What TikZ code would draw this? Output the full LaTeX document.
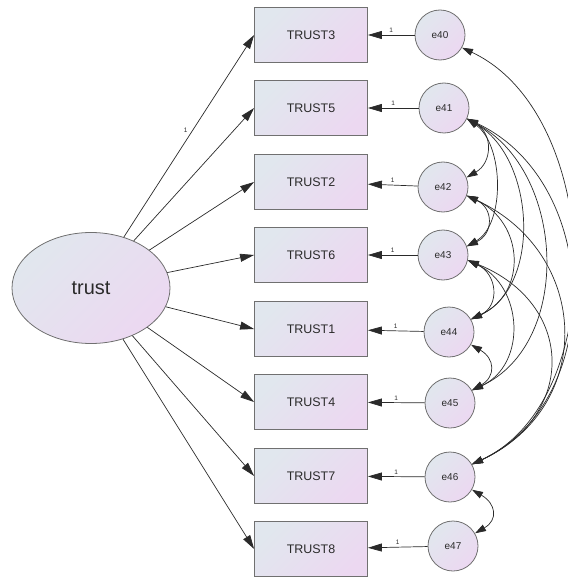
\documentclass[tikz,border=0pt]{standalone}
\usepackage{fontspec}
\setmainfont{Liberation Sans}
\usetikzlibrary{arrows.meta,shapes.geometric}
\definecolor{fillA}{HTML}{E1E7EE}
\definecolor{fillB}{HTML}{ECD8F1}
\definecolor{rim}{HTML}{707070}
\definecolor{ink}{HTML}{2A2A2A}
\definecolor{txt}{HTML}{2A2A2A}

\begin{document}
\begin{tikzpicture}[x=1bp,y=-1bp,
  shaded/.style={left color=fillA, right color=fillB, shading angle=45},
  obs/.style={shaded, draw=rim, line width=0.8bp, rectangle,
    minimum width=113bp, minimum height=55bp, inner sep=0pt,
    font=\fontsize{12.5}{14}\selectfont, text=txt},
  latent/.style={shaded, draw=rim, line width=0.8bp, ellipse,
    minimum width=158bp, minimum height=111bp, inner sep=0pt,
    font=\fontsize{20}{22}\selectfont, text=txt},
  err/.style={shaded, draw=rim, line width=0.8bp, circle,
    minimum size=50bp, inner sep=0pt,
    font=\fontsize{10}{12}\selectfont, text=txt},
  load/.style={draw=ink, line width=0.7bp, -{Triangle[length=14bp,width=8bp]}},
  cov/.style={draw=ink, line width=0.7bp,
    {Triangle[length=11bp,width=7bp]}-{Triangle[length=11bp,width=7bp]}},
  one/.style={font=\fontsize{6.5}{7}\selectfont, text=txt, inner sep=1bp}
]
\useasboundingbox (0,0) rectangle (568,577);

% latent factor
\node[latent] (trust) at (91,288) {trust};

% indicators
\node[obs] (t3) at (311,35)  {TRUST3};
\node[obs] (t5) at (311,108) {TRUST5};
\node[obs] (t2) at (311,182) {TRUST2};
\node[obs] (t6) at (311,255) {TRUST6};
\node[obs] (t1) at (311,329) {TRUST1};
\node[obs] (t4) at (311,402) {TRUST4};
\node[obs] (t7) at (311,476) {TRUST7};
\node[obs] (t8) at (311,549) {TRUST8};

% error terms
\node[err] (e40) at (440,35)  {e40};
\node[err] (e41) at (444,108) {e41};
\node[err] (e42) at (443,187) {e42};
\node[err] (e43) at (443,255) {e43};
\node[err] (e44) at (449,332) {e44};
\node[err] (e45) at (450,403) {e45};
\node[err] (e46) at (450,477) {e46};
\node[err] (e47) at (453,546) {e47};

% factor loadings
\draw[load] (trust) -- (t3.west) node[one, pos=0.53, left=4bp] {1};
\foreach \t in {t5,t2,t6,t1,t4,t7,t8}
  \draw[load] (trust) -- (\t.west);

% error paths
\foreach \e/\t in {e40/t3,e41/t5,e42/t2,e43/t6,e44/t1,e45/t4,e46/t7,e47/t8}
  \draw[load] (\e) -- (\t) node[one, pos=0.5, above=1bp] {1};

% error covariances
\draw[cov] (e40.-30) to[out=-25,in=25,looseness=0.95] (e46.30);
\draw[cov] (e41.-25) to[out=-25,in=25,looseness=1.1]  (e46.30);
\draw[cov] (e42.-20) to[out=-25,in=25,looseness=1.3]  (e46.30);
\draw[cov] (e43.-12) to[out=-22,in=25,looseness=1.45] (e46.30);
\draw[cov] (e41.-25) to[out=-28,in=25,looseness=1.05] (e45.30);
\draw[cov] (e41.-25) to[out=-30,in=25,looseness=1.0]  (e44.30);
\draw[cov] (e41.-25) to[out=-35,in=30,looseness=0.9]  (e43.20);
\draw[cov] (e41.-25) to[out=-30,in=30,looseness=1.3]  (e42.22);
\draw[cov] (e42.-20) to[out=-25,in=25,looseness=1.3]  (e44.30);
\draw[cov] (e42.-20) to[out=-25,in=25,looseness=1.5]  (e43.20);
\draw[cov] (e43.-12) to[out=-25,in=25,looseness=1.4]  (e44.30);
\draw[cov] (e43.-12) to[out=-25,in=25,looseness=1.2]  (e45.30);
\draw[cov] (e44.-30) to[out=-30,in=30,looseness=1.55] (e45.30);
\draw[cov] (e46.-30) to[out=-30,in=30,looseness=1.6]  (e47.30);
\end{tikzpicture}
\end{document}
